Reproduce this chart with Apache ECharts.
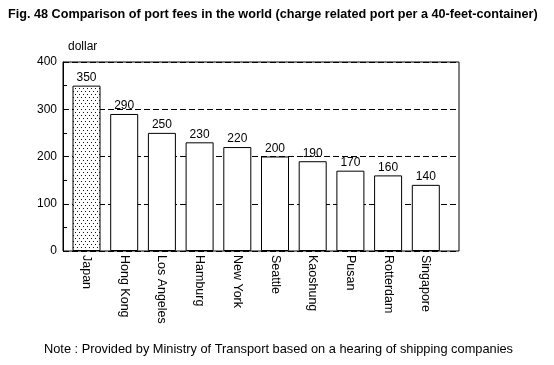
<!DOCTYPE html>
<html>
<head>
<meta charset="utf-8">
<script src="https://cdn.jsdelivr.net/npm/echarts@6/dist/echarts.min.js"></script>
<style>html,body{margin:0;padding:0;background:#fff;}#c{width:554px;height:365px;}</style>
</head>
<body>
<div id="c"></div>
<script>
var categories = ['Japan','Hong Kong','Los Angeles','Hamburg','New York','Seattle','Kaoshung','Pusan','Rotterdam','Singapore'];
var values = [350, 290, 250, 230, 220, 200, 190, 170, 160, 140];
var yTicks = [0, 100, 200, 300, 400];
var titleText = 'Fig. 48 Comparison of port fees in the world (charge related port per a 40-feet-container)';
var unitText = 'dollar';
var noteText = 'Note : Provided by Ministry of Transport based on a hearing of shipping companies';

var pc = document.createElement('canvas');
pc.width = 4; pc.height = 6;
var ctx = pc.getContext('2d');
ctx.fillStyle = '#fff'; ctx.fillRect(0,0,4,6);
ctx.fillStyle = '#111';
ctx.fillRect(1,1,1,1);
ctx.fillRect(3,4,1,1);

var font = 'Liberation Sans, Arial, sans-serif';
var chart = echarts.init(document.getElementById('c'), null, {renderer:'canvas'});
var data = values.map(function(v, i){
  if (i === 0) return {value: v, itemStyle: {color: {image: pc, repetition: 'repeat'}}};
  return v;
});
chart.setOption({
  animation: false,
  backgroundColor: '#fff',
  graphic: [
    {type:'text', left: 8, top: 8, style:{text: titleText, font: 'bold 12.65px ' + font, fill:'#000'}},
    {type:'text', left: 68, top: 41, style:{text: unitText, font: '12px ' + font, fill:'#000'}},
    {type:'text', left: 44, top: 343, style:{text: noteText, font: '12.8px ' + font, fill:'#000'}}
  ],
  grid: [
    {left: 63, top: 62, width: 396, height: 189, show: true, borderColor: '#000', borderWidth: 1, backgroundColor: 'transparent'},
    {left: 67.65, top: 62, width: 377, height: 189}
  ],
  xAxis: [
    {gridIndex: 0, type: 'value', min: 0, max: 1, show: false},
    {gridIndex: 1, type: 'category', data: categories,
      axisLine: {show: false},
      axisTick: {show: true, inside: true, length: 5, alignWithLabel: true, lineStyle:{color:'#000'}},
      axisLabel: {rotate: -90, margin: 4, fontSize: 12.5, fontFamily: font, color: '#000', interval: 0}
    }
  ],
  yAxis: [
    {gridIndex: 0, type: 'value', min: yTicks[0], max: yTicks[yTicks.length-1], interval: 100,
      axisLine: {show: true, lineStyle:{color:'#000', width: 1}},
      axisTick: {show: true, inside: true, length: 4, lineStyle:{color:'#000'}},
      minorTick: {show: true, splitNumber: 2, length: 4, lineStyle:{color:'#000'}},
      axisLabel: {fontSize: 12, fontFamily: font, color: '#000', margin: 6},
      splitLine: {show: true, lineStyle: {color: '#000', type: [6, 3], width: 1}}
    },
    {gridIndex: 1, type: 'value', min: 0, max: 400, show: false, splitLine:{show:false}}
  ],
  series: [{
    type: 'bar', xAxisIndex: 1, yAxisIndex: 1, data: data, barWidth: 28,
    itemStyle: {color: '#fff', borderColor: '#000', borderWidth: 1},
    label: {show: true, position: 'top', distance: 2, fontSize: 12, fontFamily: font, color: '#000'}
  }]
});
</script>
</body>
</html>
